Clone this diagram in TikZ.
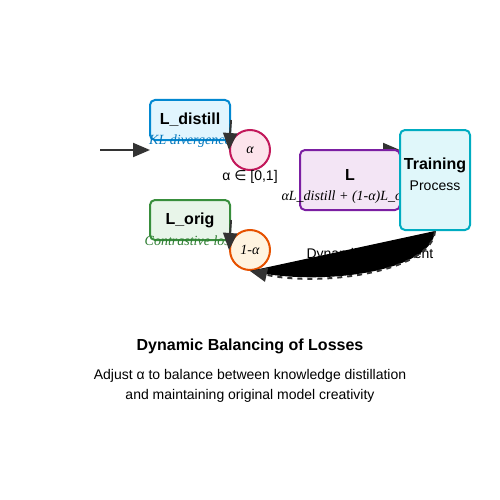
\documentclass[tikz,border=0pt]{standalone}
\usepackage{fontspec}
\setmainfont{Liberation Sans}
\newfontfamily\serifit{Liberation Serif}
\newfontfamily\symfont{DejaVu Sans}
\usetikzlibrary{arrows.meta}

\definecolor{arrowgray}{HTML}{333333}
\definecolor{distillfill}{HTML}{E1F5FE}
\definecolor{distillline}{HTML}{0288D1}
\definecolor{distilltext}{HTML}{0277BD}
\definecolor{origfill}{HTML}{E8F5E9}
\definecolor{origline}{HTML}{388E3C}
\definecolor{origtext}{HTML}{2E7D32}
\definecolor{alphafill}{HTML}{FCE4EC}
\definecolor{alphaline}{HTML}{C2185B}
\definecolor{betafill}{HTML}{FFF3E0}
\definecolor{betaline}{HTML}{E65100}
\definecolor{lossfill}{HTML}{F3E5F5}
\definecolor{lossline}{HTML}{7B1FA2}
\definecolor{trainfill}{HTML}{E0F7FA}
\definecolor{trainline}{HTML}{00ACC1}

\tikzset{
	box/.style={draw, rounded corners=5pt, line width=2pt, inner sep=0pt},
	ring/.style={circle, draw, line width=2pt, minimum size=40pt, inner sep=0pt, font=\serifit\itshape\fontsize{14}{16}\selectfont},
	head/.style={font=\bfseries\fontsize{16}{19}\selectfont},
	note/.style={inner sep=0pt, font=\serifit\itshape\fontsize{14}{16}\selectfont},
	plain/.style={inner sep=0pt, font=\fontsize{14}{17}\selectfont},
	flow/.style={draw=arrowgray, line width=2pt, -{Triangle[length=17pt,width=14pt]}}
}

\begin{document}
\begin{tikzpicture}[x=1pt, y=-1pt]
	\useasboundingbox (0,0) rectangle (500,500);

	\node[plain] (dyn) at (370,255) {Dynamic adjustment};

	\coordinate (src) at (100,150);
	\coordinate (srcend) at (150,150);
	\draw[flow] (src) -- (srcend);

	\node[box, head, fill=distillfill, draw=distillline, minimum width=80pt, minimum height=40pt] (distill) at (190,120) {L\_distill};
	\node[note, text=distilltext] (kl) at (190,141) {KL divergence};

	\node[box, head, fill=origfill, draw=origline, minimum width=80pt, minimum height=40pt] (orig) at (190,220) {L\_orig};
	\node[note, text=origtext] (contrast) at (190,241) {Contrastive loss};

	\coordinate (losstop) at (350,150);
	\coordinate (trainin) at (400,150);
	\draw[flow] (losstop) -- (trainin);

	\node[box, fill=lossfill, draw=lossline, minimum width=100pt, minimum height=60pt] (loss) at (350,180) {};
	\node[head] (losstitle) at ([yshift=5pt]loss.center) {L};
	\node[note] (formula) at ([yshift=-17pt]loss.center) {αL\_distill + (1-α)L\_orig};

	\node[box, fill=trainfill, draw=trainline, minimum width=70pt, minimum height=100pt] (train) at (435,180) {};
	\node[head] (traintitle) at ([yshift=15pt]train.center) {Training};
	\node[plain] (trainsub) at ([yshift=-6pt]train.center) {Process};

	\node[ring, fill=alphafill, draw=alphaline] (alpha) at (250,150) {α};
	\node[plain] (range) at (250,177) {α {\symfont ∈} [0,1]};
	\node[ring, fill=betafill, draw=betaline] (oneminus) at (250,250) {1-α};

	\draw[flow] (distill.east) -- (alpha.west);
	\draw[flow] (orig.east) -- (oneminus.west);
%	feedback from training back to 1-alpha
	\fill[black] (train.south) .. controls (432,272) and (320,287) .. (oneminus.south);
	\draw[flow, dash pattern=on 5pt off 5pt] (train.south) .. controls (432,272) and (320,287) .. (oneminus.south);

	\node[font=\bfseries\fontsize{16}{19}\selectfont] (caption) at (250,346) {Dynamic Balancing of Losses};
	\node[plain] (line1) at (250,376) {Adjust α to balance between knowledge distillation};
	\node[plain] (line2) at (250,396) {and maintaining original model creativity};
\end{tikzpicture}
\end{document}
